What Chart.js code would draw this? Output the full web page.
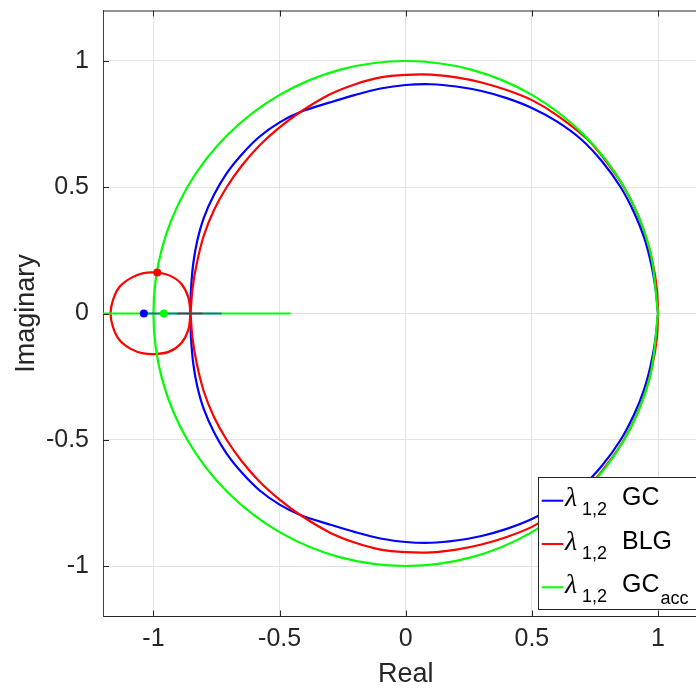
<!DOCTYPE html>
<html>
<head>
<meta charset="utf-8">
<script src="https://cdn.jsdelivr.net/npm/chart.js@4"></script>
<style>
  html, body { margin: 0; padding: 0; background: #fff; }
  #wrap { width: 696px; height: 688px; overflow: hidden; position: relative; }
  #box { width: 720px; height: 688px; }
</style>
</head>
<body>
<div id="wrap"><div id="box"><canvas id="myChart" width="720" height="688"></canvas></div></div>
<script>
// tick values
const xTicks = [-1, -0.5, 0, 0.5, 1];
const yTicks = [-1, -0.5, 0, 0.5, 1];

// GC locus: x, upper and lower branch
const gcX = [1, 0.99, 0.972, 0.945, 0.905, 0.852, 0.78, 0.695, 0.6, 0.5, 0.4, 0.3, 0.2, 0.1, 0, -0.1, -0.2, -0.3, -0.418,
  -0.5, -0.58, -0.65, -0.71, -0.76, -0.8, -0.826, -0.842, -0.851, -0.855];
const gcUp = [0, 0.1, 0.2, 0.3, 0.4, 0.5, 0.6, 0.69, 0.76, 0.814, 0.853, 0.881, 0.899, 0.908, 0.905, 0.891, 0.866, 0.836, 0.798,
  0.757, 0.7, 0.63, 0.555, 0.47, 0.38, 0.29, 0.2, 0.1, 0];
const gcDown = [0, -0.1, -0.2, -0.3, -0.4, -0.5, -0.6, -0.69, -0.76, -0.814, -0.853, -0.881, -0.899, -0.908, -0.905, -0.891, -0.866, -0.836, -0.798,
  -0.757, -0.7, -0.63, -0.555, -0.47, -0.38, -0.29, -0.2, -0.1, 0];

// BLG locus
const blgX = [1, 0.995, 0.979, 0.953, 0.916, 0.865, 0.8, 0.72, 0.6, 0.5, 0.4, 0.3, 0.2, 0.1, 0, -0.1, -0.2, -0.3, -0.418,
  -0.5, -0.58, -0.65, -0.71, -0.76, -0.8, -0.828, -0.845, -0.853];
const blgUp = [0, 0.1, 0.2, 0.3, 0.4, 0.5, 0.595, 0.69, 0.785, 0.845, 0.885, 0.915, 0.935, 0.946, 0.945, 0.935, 0.908, 0.868, 0.798,
  0.737, 0.665, 0.585, 0.5, 0.41, 0.31, 0.2, 0.1, 0];
const blgDown = [0, -0.1, -0.2, -0.3, -0.4, -0.5, -0.595, -0.69, -0.785, -0.845, -0.885, -0.915, -0.935, -0.946, -0.945, -0.935, -0.908, -0.868, -0.798,
  -0.737, -0.665, -0.585, -0.5, -0.41, -0.31, -0.2, -0.1, 0];

// BLG small loop around -1
const loopX = [-0.853, -0.862, -0.89, -0.935, -0.985, -1.04, -1.09, -1.135, -1.16, -1.17,
  -1.16, -1.135, -1.09, -1.04, -0.985, -0.935, -0.89, -0.862, -0.853];
const loopY = [0, 0.065, 0.118, 0.15, 0.162, 0.16, 0.14, 0.105, 0.055, 0,
  -0.055, -0.105, -0.14, -0.158, -0.16, -0.15, -0.118, -0.065, 0];

// GC_acc locus
const accX = [1, 0.966, 0.866, 0.707, 0.5, 0.259, 0, -0.259, -0.5, -0.707, -0.866, -0.966, -1,
  -0.966, -0.866, -0.707, -0.5, -0.259, 0, 0.259, 0.5, 0.707, 0.866, 0.966, 1];
const accY = [0, 0.259, 0.5, 0.707, 0.866, 0.966, 1, 0.966, 0.866, 0.707, 0.5, 0.259, 0,
  -0.259, -0.5, -0.707, -0.866, -0.966, -1, -0.966, -0.866, -0.707, -0.5, -0.259, 0];

// branches on the real axis
const accReal = [-1.2, -0.457];
const gcReal = [-1.038, -0.73];
const blgReal = [-0.905, -0.806];

// marked points
const dotX = [-1.038, -0.985, -0.959];
const dotY = [0, 0.162, 0];
const dotColors = ['#0000ff', '#ff0000', '#00ff00'];

const legendItems = [
  { color: '#0000ff', name: 'GC', sub: '' },
  { color: '#ff0000', name: 'BLG', sub: '' },
  { color: '#00ff00', name: 'GC', sub: 'acc' },
];

const pts = (xs, ys) => xs.map((x, i) => ({ x: x, y: ys[i] }));
const seg = (xs) => xs.map((x) => ({ x: x, y: 0 }));

const FONT = "'Liberation Sans', Arial, sans-serif";

const boxPlugin = {
  id: 'boxPlugin',
  afterDraw(chart) {
    const c = chart.ctx;
    const a = chart.chartArea;
    const xs = chart.scales.x, ys = chart.scales.y;
    c.save();
    c.strokeStyle = '#262626';
    c.lineWidth = 1;
    c.beginPath();
    c.moveTo(a.left, a.top + 0.5);
    c.lineTo(a.right, a.top + 0.5);
    xTicks.forEach((v) => {
      const px = Math.round(xs.getPixelForValue(v)) + 0.5;
      c.moveTo(px, a.bottom); c.lineTo(px, a.bottom - 6);
      c.moveTo(px, a.top); c.lineTo(px, a.top + 6);
    });
    yTicks.forEach((v) => {
      const py = Math.round(ys.getPixelForValue(v)) + 0.5;
      c.moveTo(a.left, py); c.lineTo(a.left + 6, py);
    });
    c.stroke();

    // legend box
    const lx = 538.5, ly = 477.5, lh = 132;
    c.fillStyle = '#fff';
    c.fillRect(lx, ly, 260, lh);
    c.strokeRect(lx, ly, 260, lh);
    legendItems.forEach((it, i) => {
      const base = 505 + i * 43.5;
      const ly2 = 500.7 + i * 43.3;
      c.strokeStyle = it.color;
      c.lineWidth = 2;
      c.beginPath();
      c.moveTo(541.7, ly2); c.lineTo(563.3, ly2);
      c.stroke();
      c.fillStyle = '#000';
      c.textBaseline = 'alphabetic';
      c.textAlign = 'left';
      c.font = "italic 28px 'Liberation Serif', serif";
      c.fillText('λ', 565, base + 1);
      c.font = '18px ' + FONT;
      c.fillText('1,2', 582, base + 10);
      c.font = '25px ' + FONT;
      c.fillText(it.name, 622, base);
      if (it.sub) {
        const w = c.measureText(it.name).width;
        c.font = '18px ' + FONT;
        c.fillText(it.sub, 622 + w + 1, base + 12);
      }
    });
    c.restore();
  },
};

const lineOpts = { showLine: true, pointRadius: 0, borderWidth: 2.2, tension: 0.33, fill: false };

const ctx = document.getElementById('myChart').getContext('2d');
const myChart = new Chart(ctx, {
  type: 'scatter',
  data: {
    datasets: [
      { ...lineOpts, data: pts(gcX, gcUp), borderColor: '#0000ff', order: 10 },
      { ...lineOpts, data: pts(gcX, gcDown), borderColor: '#0000ff', order: 10 },
      { ...lineOpts, data: pts(blgX, blgUp), borderColor: '#ff0000', order: 9 },
      { ...lineOpts, data: pts(blgX, blgDown), borderColor: '#ff0000', order: 9 },
      { ...lineOpts, data: pts(loopX, loopY), borderColor: '#ff0000', order: 9 },
      { ...lineOpts, data: pts(accX, accY), borderColor: '#00ff00', order: 8 },
      { ...lineOpts, data: seg(accReal), borderColor: '#00ff00', order: 7, tension: 0 },
      { ...lineOpts, data: seg(gcReal), borderColor: 'rgba(0,0,255,0.5)', order: 6, tension: 0 },
      { ...lineOpts, data: seg(blgReal), borderColor: 'rgba(255,0,0,0.5)', order: 6, tension: 0 },
      {
        data: pts(dotX, dotY),
        showLine: false,
        pointRadius: 4,
        pointBorderWidth: 0,
        backgroundColor: dotColors,
        pointBackgroundColor: dotColors,
        order: 1,
      },
    ],
  },
  options: {
    responsive: false,
    animation: false,
    layout: { padding: { top: 10.5, right: 11.5, left: 0, bottom: 0 } },
    plugins: {
      legend: { display: false },
      tooltip: { enabled: false },
    },
    scales: {
      x: {
        type: 'linear',
        min: -1.2,
        max: 1.2,
        afterFit: (s) => { s.height = 71.5; s.paddingLeft = 0; s.paddingRight = 0; },
        afterBuildTicks: (s) => { s.ticks = xTicks.map((v) => ({ value: v })); },
        grid: { color: '#e3e3e3', drawTicks: false },
        border: { display: true, color: '#262626', width: 1 },
        ticks: { padding: 8, color: '#262626', font: { family: FONT, size: 25 }, callback: (v) => String(v) },
        title: { display: true, text: 'Real', color: '#262626', font: { family: FONT, size: 27 }, padding: { top: 0, bottom: -3 } },
      },
      y: {
        type: 'linear',
        min: -1.2,
        max: 1.2,
        afterFit: (s) => { s.width = 103; s.paddingTop = 0; s.paddingBottom = 0; },
        afterBuildTicks: (s) => { s.ticks = yTicks.map((v) => ({ value: v })); },
        grid: { color: '#e3e3e3', drawTicks: false },
        border: { display: true, color: '#404040', width: 1 },
        ticks: { padding: 14, color: '#262626', font: { family: FONT, size: 25 }, callback: (v) => String(v) },
        title: { display: true, text: 'Imaginary', color: '#262626', font: { family: FONT, size: 27 }, padding: { top: 10, bottom: 0 } },
      },
    },
  },
  plugins: [boxPlugin],
});
</script>
</body>
</html>
